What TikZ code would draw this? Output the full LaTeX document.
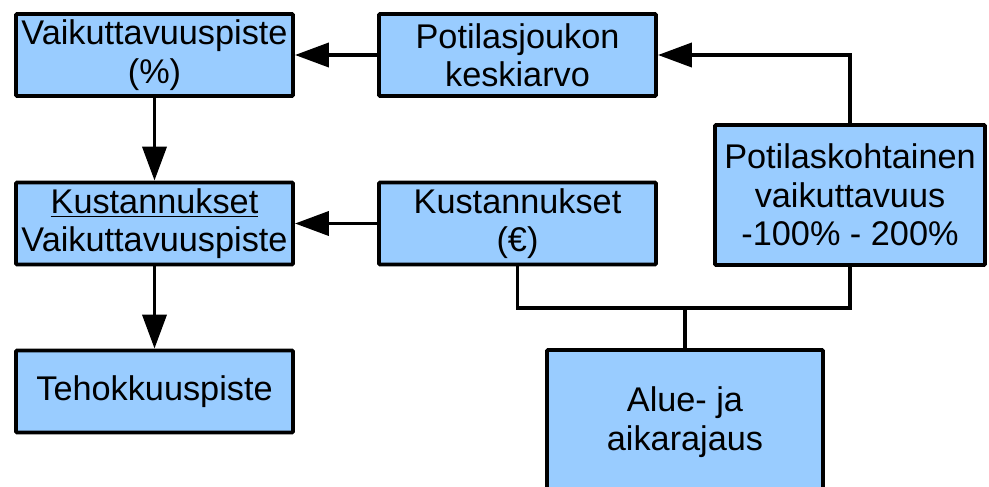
\documentclass[tikz,border=0pt]{standalone}
\usepackage{fontspec}
\setmainfont{Liberation Sans}
\usetikzlibrary{arrows.meta}
\definecolor{boxblue}{HTML}{99CCFF}
\tikzset{>/.tip={Triangle[length=6.8mm,width=4.8mm]},
  box/.style={draw, fill=boxblue, line width=2.2pt, rounded corners=0.6pt,
    minimum width=5.54cm, minimum height=1.64cm, align=center, inner sep=0pt,
    font=\fontsize{19.5}{21.8}\selectfont}}

\begin{document}
\begin{tikzpicture}[line width=2.2pt]
 \useasboundingbox (0,0) rectangle (19.78,-9.72);

 \node[box] (vp) at (3.09, -1.10) {Vaikuttavuuspiste\\(\%)};
 \node[box] (pj) at (10.35, -1.10) {Potilasjoukon\\keskiarvo};
 \node[box] (kv) at (3.09, -4.47) {\underline{Kustannukset}\\Vaikuttavuuspiste};
 \node[box] (ke) at (10.35, -4.47) {Kustannukset\\(€)};
 \node[box] (tp) at (3.09, -7.83) {Tehokkuuspiste};
 \node[box, minimum width=5.40cm, minimum height=2.80cm] (pk) at (17.00, -3.90)
   {Potilaskohtainen\\vaikuttavuus\\-100\% - 200\%};
 \node[box, minimum width=5.52cm, minimum height=2.88cm] (ar) at (13.70, -8.44)
   {Alue- ja\\aikarajaus};
 \coordinate (j) at (13.70, -6.16);

 \path[->] (pj) edge (vp);
 \path[->] (ke) edge (kv);
 \path[->] (vp) edge (kv);
 \path[->] (kv) edge (tp);
 \draw[->] (pk.north) |- (pj.east);
 \draw (ke.south) |- (j) -| (pk.south);
 \draw (ar.north) -- (j);
\end{tikzpicture}
\end{document}
